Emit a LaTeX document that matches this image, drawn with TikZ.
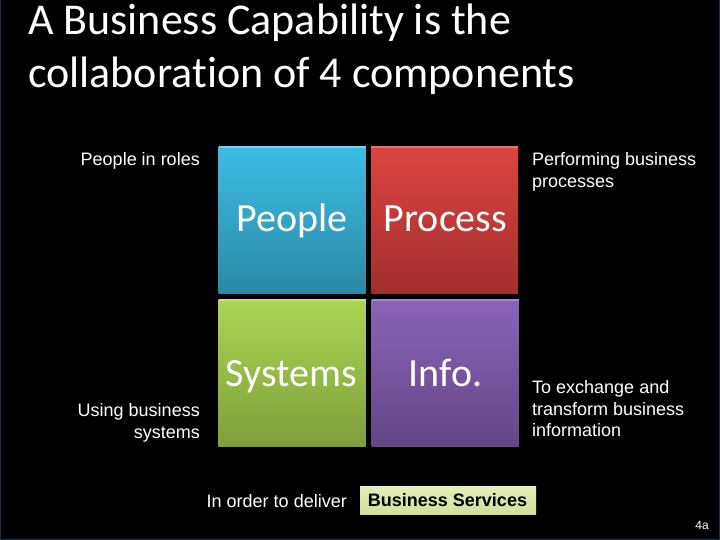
\documentclass[tikz,border=0pt]{standalone}
\usepackage{fontspec}
\setmainfont[Ligatures=NoCommon]{Carlito}
\newfontfamily\arialf{Liberation Sans}
\definecolor{pTop}{HTML}{3DBDE4}\definecolor{pBot}{HTML}{2A89A6}\definecolor{pEdge}{HTML}{6CD3F0}
\definecolor{rTop}{HTML}{DE4440}\definecolor{rBot}{HTML}{A12F2D}\definecolor{rEdge}{HTML}{E8706C}
\definecolor{gTop}{HTML}{ADD653}\definecolor{gBot}{HTML}{7F9E3C}\definecolor{gEdge}{HTML}{C5E57A}
\definecolor{vTop}{HTML}{8A64B8}\definecolor{vBot}{HTML}{634685}\definecolor{vEdge}{HTML}{A385CC}
\definecolor{bsTop}{HTML}{E2EEBC}\definecolor{bsBot}{HTML}{CFE09A}
\definecolor{frameBlue}{HTML}{1C2C4C}
\tikzset{
  cell/.style={minimum width=147pt,minimum height=147pt,inner sep=0pt,anchor=north west},
  celltext/.style={text=white,font=\fontsize{40}{40}\selectfont,inner sep=0pt,anchor=base},
  caption/.style={font=\arialf\fontsize{18}{22}\selectfont,text=white,inner sep=0pt},
  titletext/.style={font=\fontsize{44}{44}\selectfont,text=white,inner sep=0pt,anchor=base west}
}
\begin{document}
\begin{tikzpicture}[x=1pt,y=-1pt]
\useasboundingbox (0,0) rectangle (720,540);
\fill[black] (0,0) rectangle (720,540);
\draw[frameBlue,line width=1.5pt] (0.5,-2) rectangle (719.5,539.3);
\node[titletext] (title) at (28,34.5) {A Business Capability is the};
\node[titletext] (titleb) at (28,87.5) {collaboration of 4 components};
\node[cell,top color=pTop,bottom color=pBot] (people) at (218.5,146) {};
\node[cell,top color=rTop,bottom color=rBot] (process) at (371,146) {};
\node[cell,top color=gTop,bottom color=gBot] (systems) at (218.5,299) {};
\node[cell,top color=vTop,bottom color=vBot] (info) at (371.5,299) {};
\fill[pEdge] (people.north west) rectangle ([yshift=-2pt]people.north east);
\fill[rEdge] (process.north west) rectangle ([yshift=-2pt]process.north east);
\fill[gEdge] (systems.north west) rectangle ([yshift=-2pt]systems.north east);
\fill[vEdge] (info.north west) rectangle ([yshift=-2pt]info.north east);
\node[celltext] (lpeople) at (292,232) {People};
\node[celltext] (lprocess) at (445.5,232) {Process};
\node[celltext] (lsystems) at (291.5,386) {Systems};
\node[celltext] (linfo) at (445.5,386) {Info.};
\node[caption,anchor=base east] (c1) at (200,166) {People in roles};
\node[caption,anchor=base west] (c2) at (532,166) {Performing business};
\node[caption,anchor=base west] (c2b) at (532,188) {processes};
\node[caption,anchor=base east] (c3) at (200,416) {Using business};
\node[caption,anchor=base east] (c3b) at (200,438) {systems};
\node[caption,anchor=base west] (c4) at (532,393) {To exchange and};
\node[caption,anchor=base west] (c4b) at (532,415) {transform business};
\node[caption,anchor=base west] (c4c) at (532,436) {information};
\node[caption,anchor=base east] (c5) at (347,507) {In order to deliver};
\node[inner sep=0pt,minimum width=176pt,minimum height=28pt,anchor=north west,top color=bsTop,bottom color=bsBot] (bs) at (360,486) {};
\node[font=\arialf\bfseries\fontsize{18}{20}\selectfont,text=black,inner sep=0pt,anchor=base] (bst) at (447.5,506) {Business Services};
\node[font=\arialf\fontsize{12}{13}\selectfont,text=white,inner sep=0pt,anchor=base east] (num) at (709,529) {4a};
\end{tikzpicture}
\end{document}
